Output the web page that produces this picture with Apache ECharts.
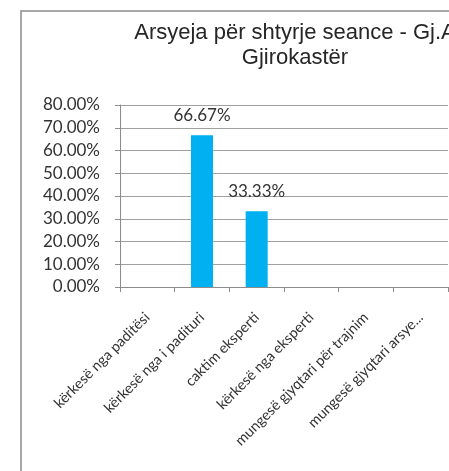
<!DOCTYPE html>
<html>
<head>
<meta charset="utf-8">
<script src="https://cdn.jsdelivr.net/npm/echarts@6/dist/echarts.min.js"></script>
<style>
  html, body { margin: 0; padding: 0; background: #fff; }
  #main { width: 449px; height: 471px; }
</style>
</head>
<body>
<div id="main"></div>
<script>
let categories = ['kërkesë nga paditësi', 'kërkesë nga i padituri', 'caktim eksperti', 'kërkesë nga eksperti', 'mungesë gjyqtari për trajnim', 'mungesë gjyqtari arsye...']
let shares = [0, 0.6667, 0.3333, 0, 0, 0]
let yTicks = [0, 0.1, 0.2, 0.3, 0.4, 0.5, 0.6, 0.7, 0.8]

let font = 'Lato, "Open Sans", sans-serif'
let chart = echarts.init(document.getElementById('main'))
let option = {
  animation: false,
  title: {
    text: 'Arsyeja për shtyrje seance - Gj.A\nGjirokastër',
    left: 290,
    top: 15,
    textAlign: 'center',
    textStyle: {
      fontFamily: 'Liberation Sans, Arial, sans-serif',
      fontWeight: 'normal',
      fontSize: 22,
      lineHeight: 25,
      color: '#262626'
    }
  },
  graphic: [
    {
      type: 'rect',
      shape: {x: 21, y: 11, width: 460, height: 480},
      style: {fill: 'none', stroke: '#8c8c8c', lineWidth: 1.5},
      silent: true
    }
  ],
  grid: {
    left: 120,
    right: 1,
    top: 105,
    bottom: 184
  },
  xAxis: {
    type: 'category',
    data: categories,
    axisLine: {lineStyle: {color: '#8c8c8c'}},
    axisTick: {show: true, length: 5, lineStyle: {color: '#8c8c8c'}},
    axisLabel: {
      interval: 0,
      rotate: 45,
      margin: 28,
      fontFamily: font,
      fontSize: 14.5,
      color: '#333'
    }
  },
  yAxis: {
    type: 'value',
    min: yTicks[0],
    max: yTicks[yTicks.length - 1],
    interval: 0.1,
    axisLine: {show: true, lineStyle: {color: '#8c8c8c'}},
    axisTick: {show: true, length: 5, lineStyle: {color: '#8c8c8c'}},
    splitLine: {lineStyle: {color: '#a0a0a0'}},
    axisLabel: {
      margin: 20,
      fontFamily: font,
      fontSize: 17,
      color: '#333',
      formatter: function (v) {
        return (v * 100).toFixed(2) + '%'
      }
    }
  },
  series: [
    {
      type: 'bar',
      data: shares,
      barWidth: 22,
      itemStyle: {color: '#00b0f0'},
      label: {
        show: true,
        position: 'top',
        distance: 11,
        fontFamily: font,
        fontSize: 17,
        color: '#333',
        formatter: function (p) {
          return p.value > 0 ? (p.value * 100).toFixed(2) + '%' : ''
        }
      }
    }
  ]
}
chart.setOption(option)
</script>
</body>
</html>
